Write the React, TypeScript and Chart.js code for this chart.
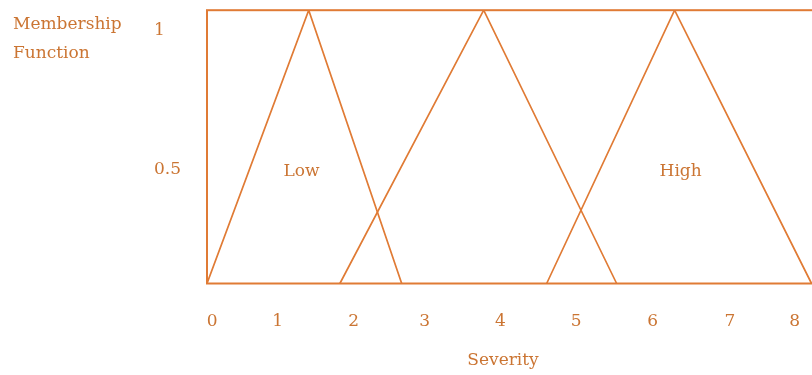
import React, { useEffect, useRef } from "react";
import { Chart, registerables } from "chart.js";

Chart.register(...registerables);

// Tick labels (positions, in severity units)
const xTickValues = [0, 0.9, 1.945, 2.92, 3.96, 5.0, 6.05, 7.11, 8.0];
const xTickLabels = ["0", "1", "2", "3", "4", "5", "6", "7", "8"];
const yTickValues = [0.5, 1];
const yTickLabels = ["0.5", "1"];

// Membership functions (triangles)
const lowX = [-0.07, 1.327, 2.604];
const lowY = [0, 1, 0];
const mediumX = [1.755, 3.73, 5.556];
const mediumY = [0, 1, 0];
const highX = [4.595, 6.352, 8.233];
const highY = [0, 1, 0];

// In-plot set labels
const setLabels = ["Low", "High"];
const setLabelX = [1.227, 6.435];
const setLabelY = [0.393, 0.393];

const LINE = "#E07B35";
const TEXT = "#CB7533";
const FAMILY = "'DejaVu Serif', serif";
const FONT_SIZE = 17;

const toPoints = (xs: number[], ys: number[]) => xs.map((x, i) => ({ x, y: ys[i] }));

export default function App() {
  const ref = useRef<HTMLCanvasElement | null>(null);

  useEffect(() => {
    const canvas = ref.current;
    if (!canvas) return;

    const overlay = {
      id: "overlay",
      beforeDatasetsDraw(chart: any) {
        const { ctx, chartArea: a } = chart;
        ctx.save();
        ctx.strokeStyle = LINE;
        ctx.lineWidth = 2;
        ctx.strokeRect(a.left, a.top, a.right - a.left, a.bottom - a.top);
        ctx.restore();
      },
      afterDraw(chart: any) {
        const { ctx } = chart;
        const xs = chart.scales.x;
        const ys = chart.scales.y;
        ctx.save();
        ctx.fillStyle = TEXT;
        ctx.font = `${FONT_SIZE}px ${FAMILY}`;
        ctx.textBaseline = "alphabetic";
        ctx.textAlign = "center";
        setLabels.forEach((t, i) => {
          ctx.fillText(t, xs.getPixelForValue(setLabelX[i]), ys.getPixelForValue(setLabelY[i]));
        });
        // x-axis title
        ctx.fillText("Severity", 503, 365);
        // y-axis title (horizontal, two lines)
        ctx.textAlign = "left";
        ctx.fillText("Membership", 13, 29);
        ctx.fillText("Function", 13, 57.5);
        ctx.restore();
      },
    };

    const chart = new Chart(canvas, {
      type: "scatter",
      data: {
        datasets: [
          { label: "Low", data: toPoints(lowX, lowY) },
          { label: "Medium", data: toPoints(mediumX, mediumY) },
          { label: "High", data: toPoints(highX, highY) },
        ].map((d) => ({
          ...d,
          showLine: true,
          borderColor: LINE,
          backgroundColor: LINE,
          borderWidth: 1.7,
          pointRadius: 0,
          tension: 0,
          xAxisID: "x",
          yAxisID: "y",
        })),
      },
      options: {
        animation: false,
        responsive: false,
        devicePixelRatio: 1,
        layout: { autoPadding: false, padding: { left: 154, top: 10, right: 0, bottom: 0 } },
        plugins: {
          legend: { display: false },
          tooltip: { enabled: false },
          title: { display: false },
        },
        scales: {
          x: {
            type: "linear",
            position: "bottom",
            min: -0.07,
            max: 8.346,
            grid: { display: false },
            border: { display: false },
            afterBuildTicks: (s: any) => {
              s.ticks = xTickValues.map((v) => ({ value: v }));
            },
            afterFit: (s: any) => {
              s.height = 91.5;
            },
            ticks: {
              color: TEXT,
              font: { family: FAMILY, size: FONT_SIZE },
              padding: 20,
              autoSkip: false,
              maxRotation: 0,
              includeBounds: false,
              callback: (_v: any, i: number) => xTickLabels[i],
            },
          },
          y: {
            type: "linear",
            display: false,
            min: 0,
            max: 1,
          },
          y2: {
            type: "linear",
            position: "left",
            min: 0.0946,
            max: 1.0714,
            grid: { display: false },
            border: { display: false },
            afterBuildTicks: (s: any) => {
              s.ticks = yTickValues.map((v) => ({ value: v }));
            },
            afterFit: (s: any) => {
              s.width = 53;
            },
            ticks: {
              color: TEXT,
              font: { family: FAMILY, size: FONT_SIZE },
              crossAlign: "far",
              padding: 0,
              autoSkip: false,
              includeBounds: false,
              callback: (_v: any, i: number) => yTickLabels[i],
            },
          },
        },
      },
      plugins: [overlay],
    } as any);

    return () => chart.destroy();
  }, []);

  return (
    <div
      style={{
        position: "fixed",
        left: 0,
        top: 0,
        width: 812,
        height: 375,
        overflow: "hidden",
        background: "#ffffff",
      }}
    >
      <canvas ref={ref} width={820} height={375} style={{ width: 820, height: 375, display: "block" }} />
    </div>
  );
}
